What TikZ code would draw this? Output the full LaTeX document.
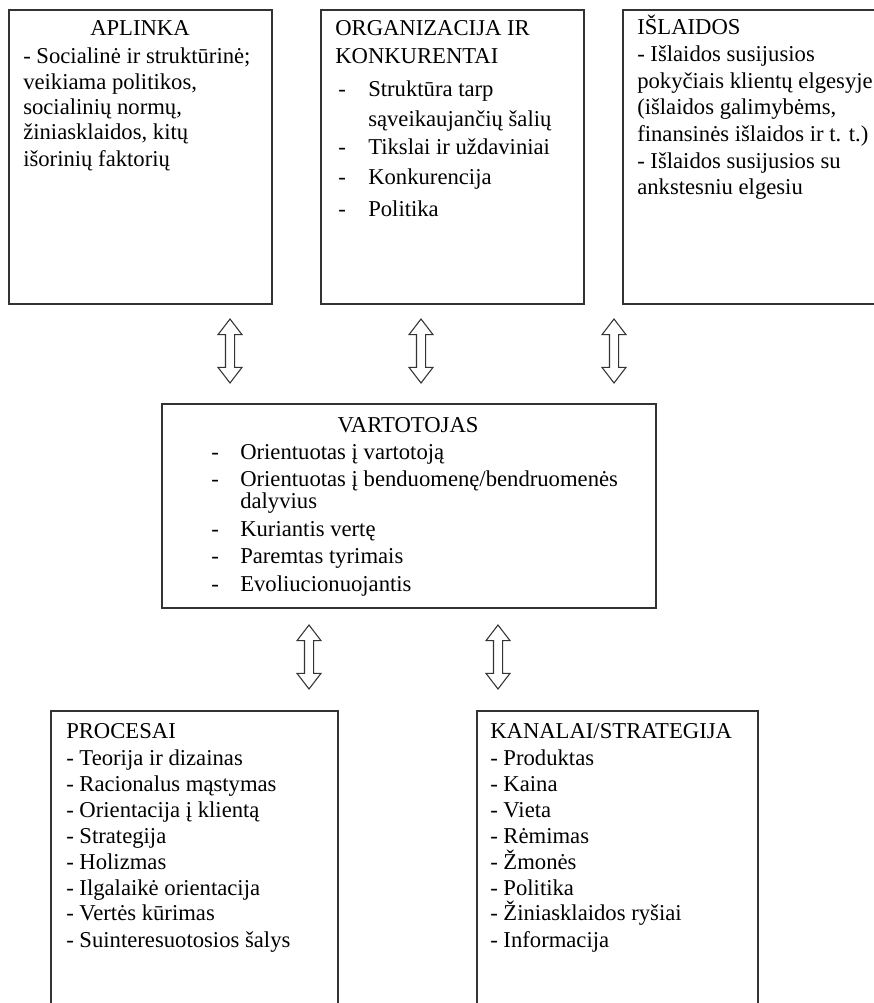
\documentclass[tikz,border=0pt]{standalone}
\usepackage{fontspec}
\setmainfont{Liberation Serif}
\usetikzlibrary{shapes.arrows,fit}

\tikzset{
  box/.style={draw=black!80,line width=1.1pt,inner sep=0pt,fit={#1}},
  head/.style={anchor=base,inner sep=0pt},
  row/.style={anchor=base west,inner sep=0pt},
  updown/.style={double arrow,rotate=90,draw=black!80,fill=white,line width=0.8pt,
    inner sep=3pt,minimum height=48pt,minimum width=17pt,
    double arrow head extend=5.6pt,double arrow tip angle=75}
}

\begin{document}
\begin{tikzpicture}[x=0.75pt,y=0.75pt,font=\fontsize{17}{19}\selectfont]
  \clip (0,0) rectangle (874,-1003);
  % upper row
  \node[box={(9,-10) (272,-304)}] (aplinka) {};
  \node[head] (aplinka-h) at (140,-36) {APLINKA};
  \foreach \y/\lab [count=\i] in {63/{- Socialinė ir struktūrinė;},89/{veikiama politikos,},
      114/{socialinių normų,},139/{žiniasklaidos, kitų},166/{išorinių faktorių}}
    \node[row] (aplinka-\i) at (23,-\y) {\lab};

  \node[box={(321,-10) (584,-304)}] (org) {};
  \node[row] (org-h1) at (335,-36) {ORGANIZACIJA IR};
  \node[row] (org-h2) at (335,-63) {KONKURENTAI};
  \foreach \y/\lab [count=\i] in {96/Struktūra tarp,126/sąveikaujančių šalių,
      154/Tikslai ir uždaviniai,184/Konkurencija,216/Politika}
    \node[row] (org-\i) at (368,-\y) {\lab};
  \foreach \y [count=\i] in {96,154,184,216}
    \node[row] (org-d\i) at (338,-\y) {-};

  \node[box={(623,-10) (890,-304)}] (islaidos) {};
  \node[row] (islaidos-h) at (637,-34) {IŠLAIDOS};
  \foreach \y/\lab [count=\i] in {61/{- Išlaidos susijusios},88/{pokyčiais klientų elgesyje},
      114/{(išlaidos galimybėms,},141/{finansinės išlaidos ir t. t.)},
      168/{- Išlaidos susijusios su},194/{ankstesniu elgesiu}}
    \node[row] (islaidos-\i) at (637,-\y) {\lab};

  % centre
  \node[box={(162,-404) (656,-608)}] (vart) {};
  \node[head] (vart-h) at (408,-432) {VARTOTOJAS};
  \foreach \y/\lab [count=\i] in {459/{Orientuotas į vartotoją},
      486/{Orientuotas į benduomenę{/}bendruomenės},508/{dalyvius},
      536/{Kuriantis vertę},563/{Paremtas tyrimais},591/{Evoliucionuojantis}}
    \node[row] (vart-\i) at (240,-\y) {\lab};
  \foreach \y [count=\i] in {459,486,536,563,591}
    \node[row] (vart-d\i) at (211,-\y) {-};

  % lower row
  \node[box={(51,-711) (338,-1020)}] (procesai) {};
  \node[row] (procesai-h) at (66,-738) {PROCESAI};
  \foreach \y/\lab [count=\i] in {765/Teorija ir dizainas,791/Racionalus mąstymas,
      817/Orientacija į klientą,843/Strategija,869/Holizmas,
      895/Ilgalaikė orientacija,920/Vertės kūrimas,947/Suinteresuotosios šalys}
    \node[row] (procesai-\i) at (66,-\y) {- \lab};

  \node[box={(477,-711) (758,-1020)}] (kanalai) {};
  \node[row] (kanalai-h) at (490,-738) {KANALAI/STRATEGIJA};
  \foreach \y/\lab [count=\i] in {765/Produktas,791/Kaina,817/Vieta,843/Rėmimas,
      869/Žmonės,895/Politika,920/Žiniasklaidos ryšiai,947/Informacija}
    \node[row] (kanalai-\i) at (490,-\y) {- \lab};

  % two-way arrows
  \node[updown] (up1) at (230,-351) {};
  \node[updown] (up2) at (421,-351) {};
  \node[updown] (up3) at (614,-351) {};
  \node[updown] (down1) at (309,-657) {};
  \node[updown] (down2) at (498,-657) {};
\end{tikzpicture}
\end{document}
